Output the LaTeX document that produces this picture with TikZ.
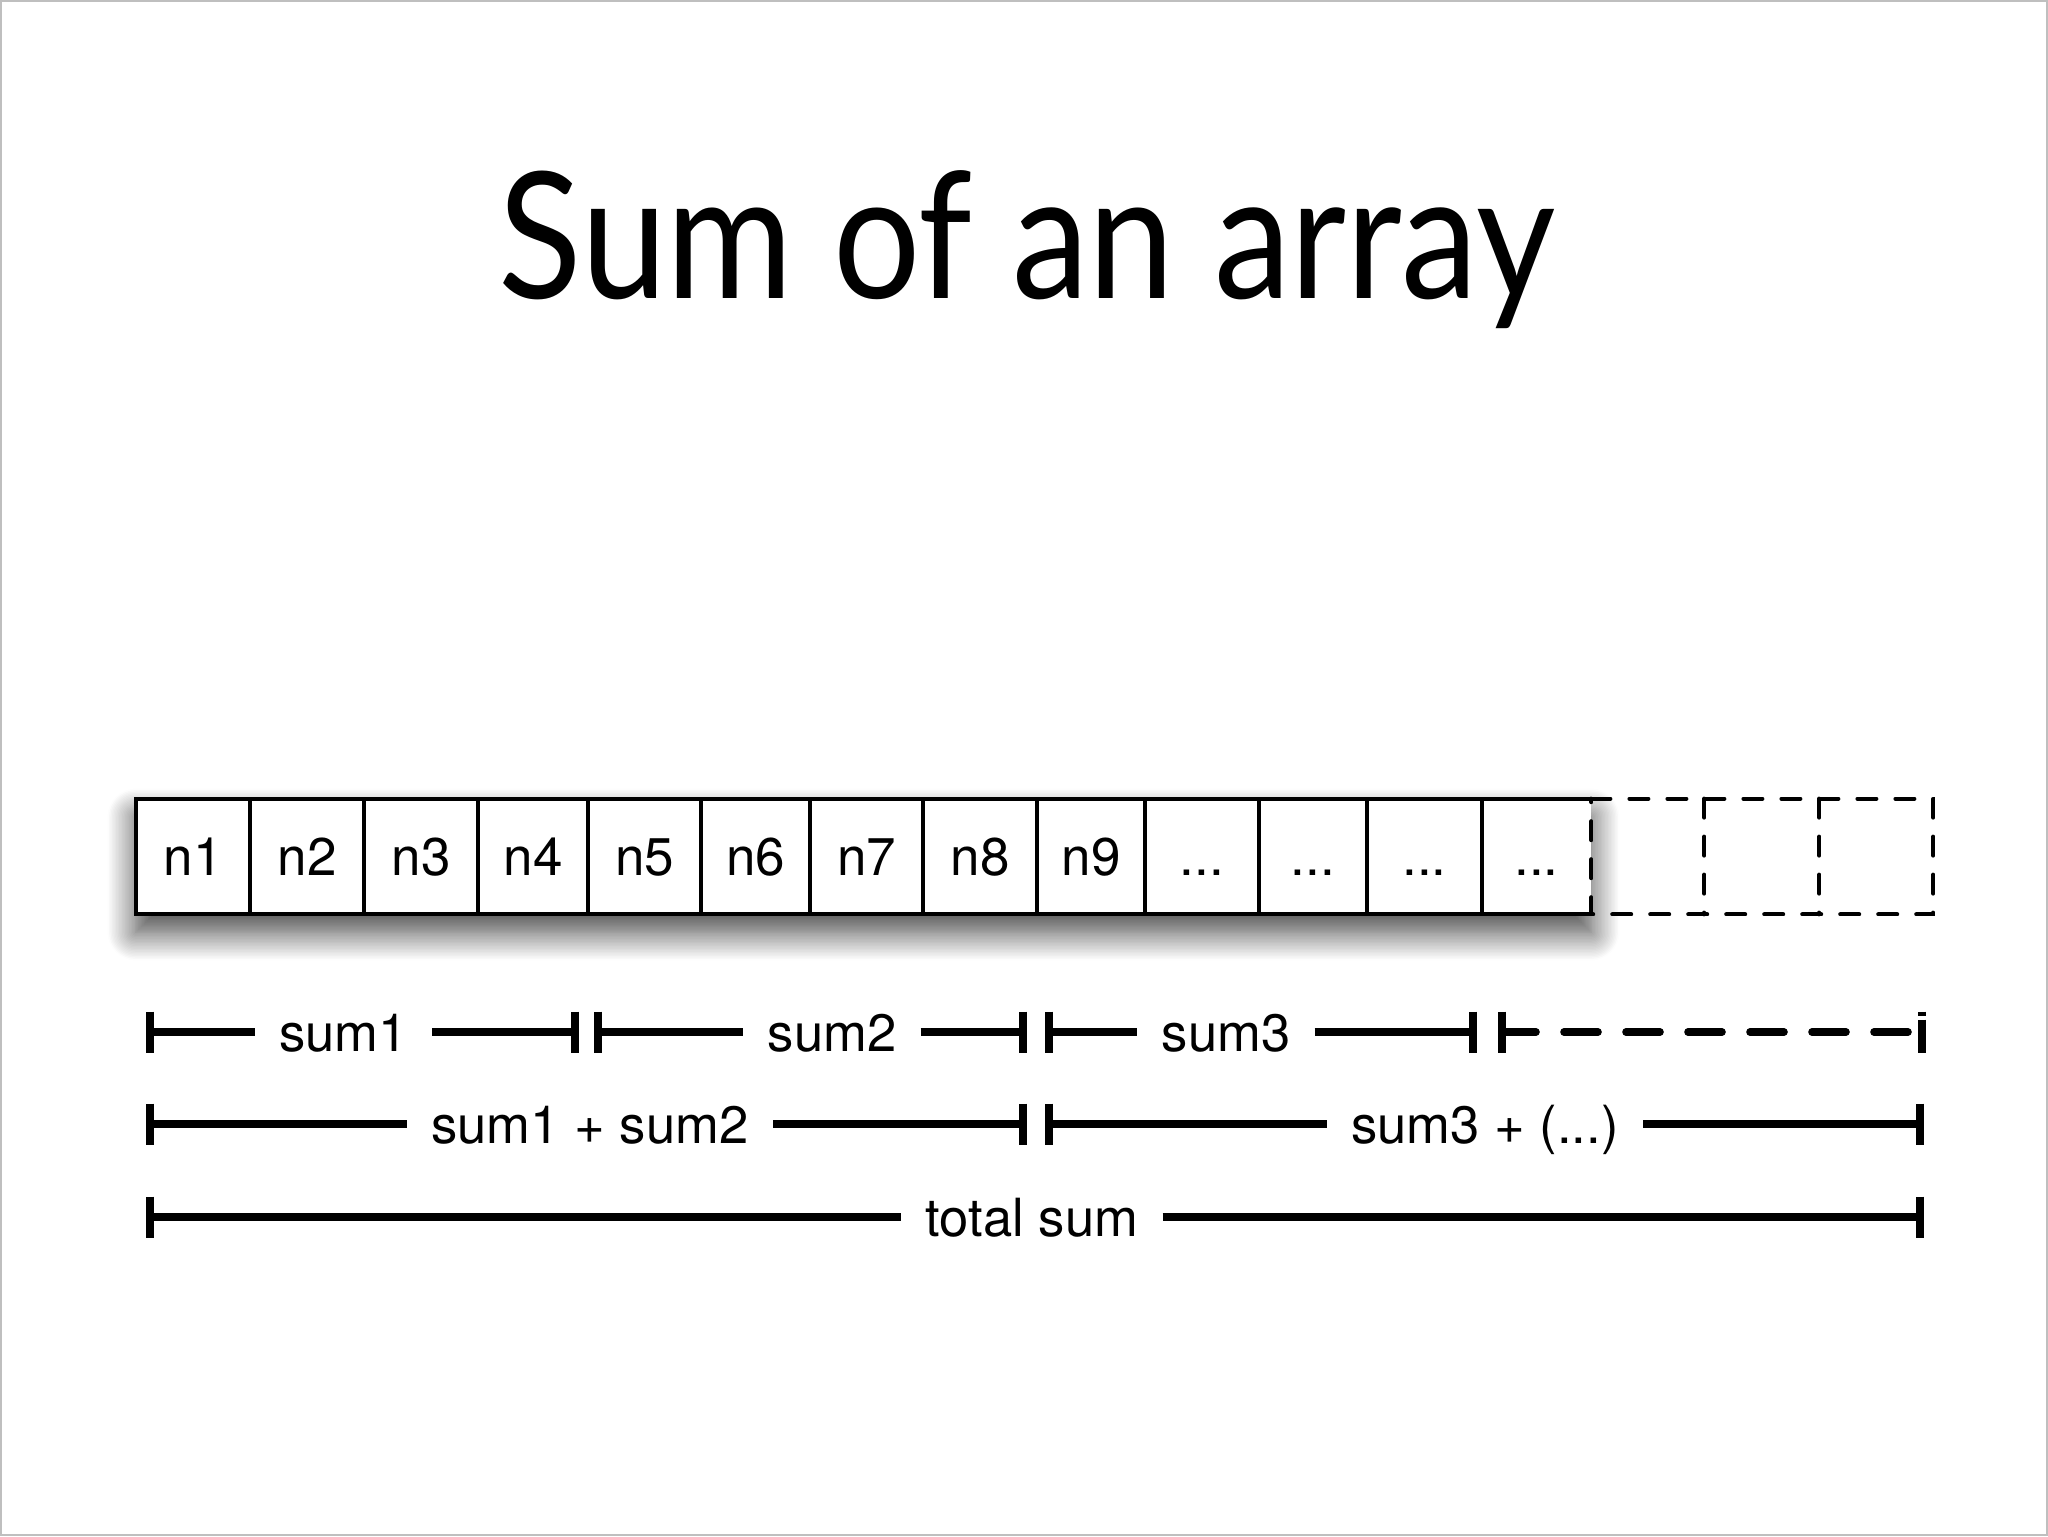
\documentclass[tikz,border=0pt]{standalone}
\usepackage{fontspec}
\setmainfont{TeX Gyre Heros}
\newfontfamily\titlefont{Lato}
\usetikzlibrary{shadows.blur}
\newcommand\mydots{...}
\begin{document}
\begin{tikzpicture}[x=0.5pt,y=-0.5pt,
  cell/.style={minimum height=57.5pt, inner sep=0pt, text height=19pt, text depth=0pt, font=\fontsize{26.5}{30}\selectfont},
  solidline/.style={line width=2pt, line cap=rect},
  dashline/.style={line width=2pt, dash pattern=on 9.5pt off 9.5pt, line cap=round},
  lab/.style={inner xsep=12pt, inner ysep=0pt, text height=19pt, text depth=0pt, font=\fontsize{26.3}{30}\selectfont},
  seg/.style={line width=3.8pt},
  dseg/.style={line width=3.8pt, dash pattern=on 17pt off 14pt, line cap=round},
  tick/.style={line width=3.8pt}]
\useasboundingbox (0,0) rectangle (2048,1536);
\draw[gray!50, line width=0.8pt] (1,1) rectangle (2047,1535);

% title
\node[font=\titlefont\fontsize{88}{100}\selectfont, anchor=base, inner sep=0pt] (title) at (1027,298) {\scalebox{0.875}[1]{Sum of an array}};

% array cells (positions)
\foreach \a/\b [count=\i] in {136/250, 250/364, 364/478, 478/588, 588/701, 701/810, 810/923, 923/1037, 1037/1145, 1145/1259, 1259/1367, 1367/1482, 1482/1591, 1591/1704, 1704/1819, 1819/1933}
  \coordinate (p\i) at ({(\a+\b)/2},856.5);
\foreach \a/\b [count=\i] in {136/250, 250/364, 364/478, 478/588, 588/701, 701/810, 810/923, 923/1037, 1037/1145, 1145/1259, 1259/1367, 1367/1482, 1482/1591, 1591/1704, 1704/1819, 1819/1933}
  \node[cell, minimum width={(\b-\a)*0.5pt}] (c\i) at (p\i) {};

% shadow under solid part
\fill[white, blur shadow={shadow xshift=0pt, shadow yshift=-9pt, shadow blur radius=14pt, shadow opacity=75, shadow blur steps=20}] (c1.north west) rectangle (c13.south east);

% cell texts
\foreach \t [count=\i] in {n1,n2,n3,n4,n5,n6,n7,n8,n9,\mydots,\mydots,\mydots,\mydots}
  \node[cell, anchor=center] (t\i) at (c\i.center) {\t};

\draw[solidline] (c13.north east) -- (c1.north west) -- (c1.south west) -- (c13.south east);
\foreach \i in {1,...,12}
  \draw[solidline] (c\i.north east) -- (c\i.south east);
\draw[dashline] (c13.north east) -- (c16.north east) -- (c16.south east) -- (c13.south east) -- cycle;
\draw[dashline] (c14.north east) -- (c14.south east);
\draw[dashline] (c15.north east) -- (c15.south east);

% bracket coordinates
\coordinate (r1a) at (150,1032);
\coordinate (r1b) at (575,1032);
\coordinate (r1c) at (598,1032);
\coordinate (r1d) at (1023,1032);
\coordinate (r1e) at (1049,1032);
\coordinate (r1f) at (1473,1032);
\coordinate (r1g) at (1502,1032);
\coordinate (r1h) at (1922,1032);
\coordinate (r2a) at (150,1124);
\coordinate (r2b) at (1023,1124);
\coordinate (r2c) at (1049,1124);
\coordinate (r2d) at (1920,1124);
\coordinate (r3a) at (150,1217);
\coordinate (r3b) at (1920,1217);

% labels
\node[lab] (s1) at (343.5,1032) {sum1};
\node[lab] (s2) at (832,1032) {sum2};
\node[lab] (s3) at (1226,1032) {sum3};
\node[lab] (s12) at (590,1124) {sum1 + sum2};
\node[lab] (s3x) at (1485,1124) {sum3 + (\mydots)};
\node[lab] (tot) at (1032,1217) {total sum};

% lines
\draw[seg] (r1a) -- (s1.west |- r1a);
\draw[seg] (s1.east |- r1a) -- (r1b);
\draw[seg] (r1c) -- (s2.west |- r1c);
\draw[seg] (s2.east |- r1c) -- (r1d);
\draw[seg] (r1e) -- (s3.west |- r1e);
\draw[seg] (s3.east |- r1e) -- (r1f);
\draw[dseg] (r1g) -- (r1h);
\draw[seg] (r2a) -- (s12.west |- r2a);
\draw[seg] (s12.east |- r2a) -- (r2b);
\draw[seg] (r2c) -- (s3x.west |- r2c);
\draw[seg] (s3x.east |- r2c) -- (r2d);
\draw[seg] (r3a) -- (tot.west |- r3a);
\draw[seg] (tot.east |- r3a) -- (r3b);

% ticks
\foreach \p in {r1a,r1b,r1c,r1d,r1e,r1f,r1g,r2a,r2b,r2c,r2d,r3a,r3b}
  \draw[tick] ([yshift=10.25pt]\p) -- ([yshift=-10.25pt]\p);
\draw[tick, dash pattern=on 2pt off 2pt on 30pt] ([yshift=10.25pt]r1h) -- ([yshift=-10.25pt]r1h);
\end{tikzpicture}
\end{document}
